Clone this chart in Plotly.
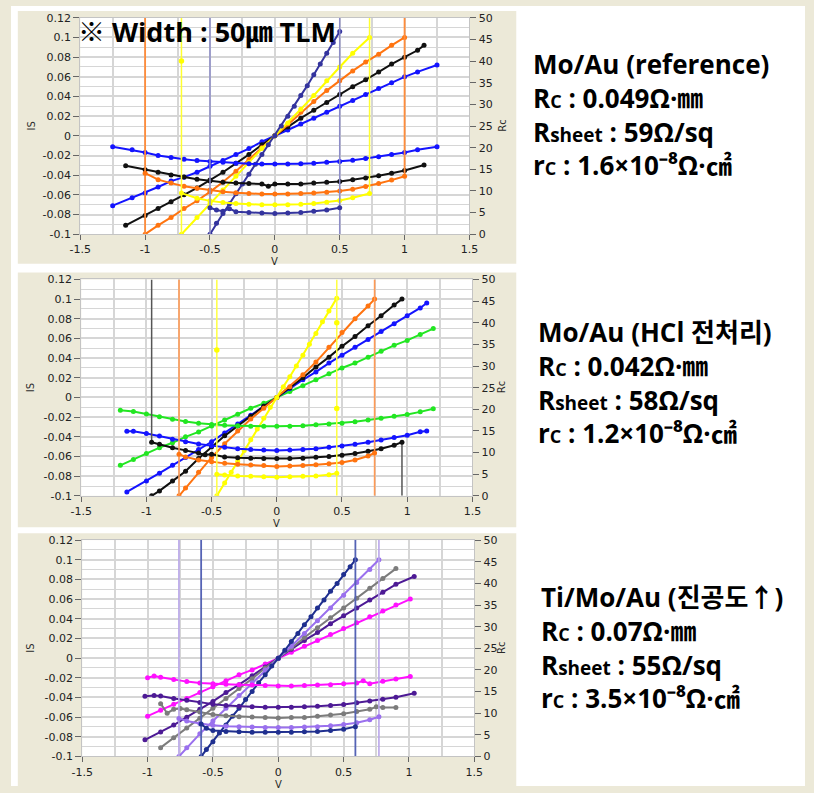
import plotly.graph_objects as go

W, H = 814, 793

# ---------------- tick labels ----------------
X_TICKS = [-1.5, -1.0, -0.5, 0.0, 0.5, 1.0, 1.5]
X_TICK_TEXT = ["-1.5", "-1", "-0.5", "0", "0.5", "1", "1.5"]
Y_TICKS = [-0.1, -0.08, -0.06, -0.04, -0.02, 0.0, 0.02, 0.04, 0.06, 0.08, 0.1, 0.12]
Y_TICK_TEXT = ["-0.1", "-0.08", "-0.06", "-0.04", "-0.02", "0", "0.02", "0.04", "0.06", "0.08", "0.1", "0.12"]
R_TICKS = [0, 5, 10, 15, 20, 25, 30, 35, 40, 45, 50]
R_TICK_TEXT = ["0", "5", "10", "15", "20", "25", "30", "35", "40", "45", "50"]

# ---------------- Panel 1 : Mo/Au (reference) ----------------
P1_NAVY_V = [-0.5, -0.45, -0.4, -0.35, -0.3, -0.25, -0.2, -0.15, -0.1, -0.05, 0.0, 0.05, 0.1, 0.15, 0.2, 0.25, 0.3, 0.35, 0.4, 0.45, 0.5]
P1_NAVY_I = [-0.100, -0.089, -0.079, -0.069, -0.059, -0.049, -0.039, -0.029, -0.019, -0.009, 0.000, 0.010, 0.020, 0.030, 0.041, 0.051, 0.062, 0.073, 0.084, 0.095, 0.106]
P1_NAVY_RV = [-0.5, -0.45, -0.4, -0.35, -0.3, -0.2, -0.1, 0.0, 0.1, 0.2, 0.3, 0.4, 0.5]
P1_NAVY_R = [6.1, 5.6, 5.3, 5.9, 5.2, 5.0, 4.9, 4.8, 4.9, 5.0, 5.3, 5.6, 6.1]

P1_YEL_V = [-0.72, -0.6, -0.5, -0.4, -0.3, -0.2, -0.1, 0.0, 0.1, 0.2, 0.3, 0.4, 0.5, 0.6, 0.73]
P1_YEL_I = [-0.100, -0.083, -0.069, -0.055, -0.041, -0.027, -0.013, 0.000, 0.013, 0.027, 0.041, 0.056, 0.070, 0.084, 0.100]
P1_YEL_R = [9.5, 8.3, 7.7, 7.3, 7.1, 6.9, 6.8, 6.8, 6.8, 6.9, 7.1, 7.4, 7.8, 8.4, 9.4]
P1_YEL_OUT_V = [-0.72]
P1_YEL_OUT_R = [40.0]

P1_ORG_V = [-1.0, -0.9, -0.8, -0.7, -0.6, -0.5, -0.4, -0.3, -0.2, -0.1, 0.0, 0.1, 0.2, 0.3, 0.4, 0.5, 0.6, 0.7, 0.8, 0.9, 1.0]
P1_ORG_I = [-0.100, -0.091, -0.083, -0.074, -0.066, -0.057, -0.047, -0.036, -0.024, -0.012, 0.000, 0.012, 0.024, 0.035, 0.046, 0.056, 0.066, 0.075, 0.083, 0.092, 0.100]
P1_ORG_R = [14.1, 12.6, 11.8, 11.1, 10.6, 10.2, 9.8, 9.6, 9.4, 9.3, 9.3, 9.3, 9.4, 9.5, 9.7, 10.0, 10.4, 11.0, 11.7, 12.5, 13.4]

P1_BLK_V = [-1.15, -1.0, -0.9, -0.8, -0.7, -0.6, -0.5, -0.4, -0.3, -0.2, -0.1, 0.0, 0.1, 0.2, 0.3, 0.4, 0.5, 0.6, 0.7, 0.8, 0.9, 1.0, 1.1, 1.15]
P1_BLK_I = [-0.091, -0.081, -0.074, -0.067, -0.060, -0.053, -0.045, -0.037, -0.028, -0.019, -0.009, 0.000, 0.009, 0.018, 0.026, 0.034, 0.042, 0.050, 0.057, 0.065, 0.073, 0.080, 0.087, 0.092]
P1_BLK_RV = [-1.15, -1.0, -0.9, -0.8, -0.7, -0.6, -0.5, -0.4, -0.3, -0.2, -0.1, -0.05, 0.0, 0.1, 0.2, 0.3, 0.4, 0.5, 0.6, 0.7, 0.8, 0.9, 1.0, 1.15]
P1_BLK_R = [15.8, 14.9, 14.3, 13.7, 13.2, 12.7, 12.3, 12.0, 11.8, 11.7, 11.6, 11.1, 11.6, 11.6, 11.6, 11.8, 12.0, 12.2, 12.6, 13.0, 13.5, 14.1, 14.7, 16.0]

P1_BLU_V = [-1.25, -1.1, -1.0, -0.9, -0.8, -0.7, -0.6, -0.5, -0.4, -0.3, -0.2, -0.1, 0.0, 0.1, 0.2, 0.3, 0.4, 0.5, 0.6, 0.7, 0.8, 0.9, 1.0, 1.1, 1.25]
P1_BLU_I = [-0.071, -0.063, -0.058, -0.052, -0.046, -0.042, -0.037, -0.031, -0.025, -0.019, -0.013, -0.006, 0.000, 0.006, 0.012, 0.018, 0.024, 0.030, 0.036, 0.042, 0.048, 0.054, 0.060, 0.065, 0.072]
P1_BLU_R = [20.2, 19.5, 18.9, 18.2, 17.7, 17.3, 17.0, 16.8, 16.6, 16.4, 16.3, 16.2, 16.2, 16.2, 16.3, 16.4, 16.6, 16.8, 17.1, 17.5, 17.9, 18.4, 18.9, 19.5, 20.2]

# ---------------- Panel 2 : Mo/Au (HCl) ----------------
P2_YEL_V = [-0.46, -0.4, -0.35, -0.3, -0.25, -0.2, -0.15, -0.1, -0.05, 0.0, 0.05, 0.1, 0.15, 0.2, 0.25, 0.3, 0.35, 0.4, 0.46]
P2_YEL_I = [-0.100, -0.087, -0.076, -0.065, -0.054, -0.043, -0.032, -0.021, -0.010, 0.000, 0.011, 0.021, 0.032, 0.043, 0.054, 0.065, 0.077, 0.088, 0.101]
P2_YEL_RV = [-0.46, -0.4, -0.3, -0.2, -0.1, 0.0, 0.1, 0.2, 0.3, 0.4, 0.46]
P2_YEL_R = [5.0, 4.8, 4.6, 4.5, 4.4, 4.3, 4.4, 4.5, 4.6, 4.9, 5.2]
P2_YEL_OUT_V = [-0.46, 0.46, 0.46]
P2_YEL_OUT_R = [33.7, 20.2, 40.0]

P2_ORG_V = [-0.75, -0.7, -0.6, -0.5, -0.4, -0.3, -0.2, -0.1, 0.0, 0.1, 0.2, 0.3, 0.4, 0.5, 0.6, 0.7, 0.75]
P2_ORG_I = [-0.100, -0.092, -0.076, -0.061, -0.047, -0.034, -0.022, -0.011, 0.000, 0.011, 0.023, 0.036, 0.051, 0.066, 0.080, 0.093, 0.100]
P2_ORG_R = [9.6, 9.0, 8.3, 7.9, 7.5, 7.3, 7.1, 7.0, 6.8, 6.9, 7.0, 7.2, 7.4, 7.7, 8.3, 9.2, 9.9]

P2_BLK_V = [-0.96, -0.9, -0.8, -0.7, -0.6, -0.5, -0.4, -0.3, -0.2, -0.1, 0.0, 0.1, 0.2, 0.3, 0.4, 0.5, 0.6, 0.7, 0.8, 0.9, 0.96]
P2_BLK_I = [-0.100, -0.095, -0.085, -0.075, -0.062, -0.050, -0.039, -0.029, -0.019, -0.009, 0.000, 0.010, 0.020, 0.031, 0.041, 0.052, 0.062, 0.073, 0.083, 0.094, 0.100]
P2_BLK_RV = [-0.96, -0.9, -0.8, -0.7, -0.6, -0.55, -0.5, -0.4, -0.3, -0.2, -0.1, 0.0, 0.1, 0.2, 0.3, 0.4, 0.5, 0.6, 0.7, 0.8, 0.9, 0.96]
P2_BLK_R = [12.4, 11.9, 11.1, 10.5, 9.9, 9.5, 9.6, 9.0, 8.8, 8.7, 8.6, 8.6, 8.6, 8.7, 8.9, 9.1, 9.4, 9.8, 10.3, 10.9, 11.7, 12.4]

P2_BLU_V = [-1.15, -1.0, -0.9, -0.8, -0.7, -0.6, -0.5, -0.4, -0.3, -0.2, -0.1, 0.0, 0.1, 0.2, 0.3, 0.4, 0.5, 0.6, 0.7, 0.8, 0.9, 1.0, 1.1, 1.15]
P2_BLU_I = [-0.096, -0.085, -0.077, -0.069, -0.061, -0.053, -0.045, -0.036, -0.027, -0.018, -0.009, 0.000, 0.009, 0.018, 0.026, 0.035, 0.043, 0.051, 0.059, 0.067, 0.075, 0.083, 0.091, 0.096]
P2_BLU_RV = [-1.15, -1.1, -1.0, -0.9, -0.8, -0.7, -0.6, -0.5, -0.4, -0.3, -0.2, -0.1, 0.0, 0.1, 0.2, 0.3, 0.4, 0.5, 0.6, 0.7, 0.8, 0.9, 1.0, 1.1, 1.15]
P2_BLU_R = [14.9, 14.9, 14.4, 13.8, 13.1, 12.5, 12.0, 11.6, 11.2, 10.9, 10.7, 10.6, 10.5, 10.6, 10.7, 10.9, 11.2, 11.5, 11.9, 12.4, 12.9, 13.5, 14.0, 14.8, 15.0]

P2_GRN_V = [-1.2, -1.1, -1.0, -0.9, -0.8, -0.7, -0.6, -0.5, -0.4, -0.3, -0.2, -0.1, 0.0, 0.1, 0.2, 0.3, 0.4, 0.5, 0.6, 0.7, 0.8, 0.9, 1.0, 1.1, 1.2]
P2_GRN_I = [-0.069, -0.063, -0.057, -0.051, -0.046, -0.040, -0.035, -0.029, -0.023, -0.017, -0.011, -0.006, 0.000, 0.006, 0.012, 0.018, 0.024, 0.030, 0.035, 0.041, 0.047, 0.053, 0.058, 0.064, 0.070]
P2_GRN_R = [19.8, 19.5, 18.9, 18.3, 17.7, 17.2, 16.8, 16.5, 16.3, 16.2, 16.1, 16.1, 16.1, 16.1, 16.2, 16.4, 16.6, 16.8, 17.1, 17.5, 17.9, 18.4, 18.8, 19.4, 20.1]

# ---------------- Panel 3 : Ti/Mo/Au ----------------
P3_NAVY_V = [-0.59, -0.55, -0.5, -0.45, -0.4, -0.35, -0.3, -0.25, -0.2, -0.15, -0.1, -0.05, 0.0, 0.05, 0.1, 0.15, 0.2, 0.25, 0.3, 0.35, 0.4, 0.45, 0.5, 0.55, 0.59]
P3_NAVY_I = [-0.100, -0.093, -0.085, -0.076, -0.068, -0.059, -0.051, -0.042, -0.034, -0.025, -0.017, -0.008, 0.000, 0.008, 0.017, 0.025, 0.034, 0.042, 0.051, 0.059, 0.068, 0.076, 0.085, 0.093, 0.100]
P3_NAVY_RV = [-0.59, -0.55, -0.5, -0.4, -0.3, -0.2, -0.1, 0.0, 0.1, 0.2, 0.3, 0.4, 0.5, 0.59]
P3_NAVY_R = [7.5, 6.5, 6.0, 5.8, 5.7, 5.6, 5.6, 5.6, 5.6, 5.7, 5.8, 6.0, 6.3, 6.9]

P3_LPU_V = [-0.76, -0.7, -0.6, -0.5, -0.4, -0.3, -0.2, -0.1, 0.0, 0.1, 0.2, 0.3, 0.4, 0.5, 0.6, 0.7, 0.77]
P3_LPU_I = [-0.100, -0.091, -0.077, -0.064, -0.051, -0.038, -0.025, -0.012, 0.000, 0.012, 0.025, 0.038, 0.051, 0.064, 0.077, 0.090, 0.100]
P3_LPU_R = [8.8, 8.2, 7.6, 7.2, 7.0, 6.9, 6.8, 6.7, 6.7, 6.7, 6.8, 6.9, 7.1, 7.4, 7.8, 8.5, 9.2]

P3_GRY_V = [-0.9, -0.8, -0.7, -0.6, -0.5, -0.4, -0.3, -0.2, -0.1, 0.0, 0.1, 0.2, 0.3, 0.4, 0.5, 0.6, 0.7, 0.8, 0.9]
P3_GRY_I = [-0.091, -0.081, -0.071, -0.061, -0.051, -0.041, -0.031, -0.021, -0.010, 0.000, 0.010, 0.021, 0.031, 0.041, 0.051, 0.061, 0.071, 0.081, 0.091]
P3_GRY_RV = [-0.9, -0.85, -0.8, -0.75, -0.7, -0.6, -0.5, -0.4, -0.3, -0.2, -0.1, 0.0, 0.1, 0.2, 0.3, 0.4, 0.5, 0.6, 0.7, 0.75, 0.8, 0.9]
P3_GRY_R = [12.2, 10.0, 10.9, 11.1, 10.8, 10.3, 9.7, 9.4, 9.2, 9.1, 9.0, 8.9, 9.0, 9.0, 9.3, 9.6, 9.9, 10.4, 10.9, 11.5, 11.3, 11.3]

P3_DPU_V = [-1.02, -0.9, -0.8, -0.7, -0.6, -0.5, -0.4, -0.3, -0.2, -0.1, 0.0, 0.1, 0.2, 0.3, 0.4, 0.5, 0.6, 0.7, 0.8, 0.9, 1.04]
P3_DPU_I = [-0.083, -0.075, -0.068, -0.060, -0.052, -0.044, -0.035, -0.027, -0.018, -0.009, 0.000, 0.009, 0.018, 0.026, 0.035, 0.043, 0.051, 0.059, 0.067, 0.075, 0.083]
P3_DPU_RV = [-1.02, -0.95, -0.9, -0.8, -0.7, -0.6, -0.5, -0.4, -0.3, -0.2, -0.1, 0.0, 0.1, 0.2, 0.3, 0.4, 0.5, 0.6, 0.7, 0.8, 0.9, 1.04]
P3_DPU_R = [13.9, 14.1, 14.0, 13.4, 13.0, 12.5, 12.1, 11.8, 11.6, 11.5, 11.4, 11.4, 11.4, 11.5, 11.6, 11.8, 12.0, 12.4, 12.8, 13.2, 13.7, 14.6]

P3_MAG_V = [-1.0, -0.9, -0.8, -0.7, -0.6, -0.5, -0.4, -0.3, -0.2, -0.1, 0.0, 0.1, 0.2, 0.3, 0.4, 0.5, 0.6, 0.7, 0.8, 0.9, 1.01]
P3_MAG_I = [-0.059, -0.053, -0.047, -0.041, -0.035, -0.029, -0.023, -0.017, -0.012, -0.006, 0.000, 0.006, 0.012, 0.018, 0.024, 0.030, 0.036, 0.042, 0.048, 0.054, 0.060]
P3_MAG_RV = [-1.0, -0.95, -0.9, -0.8, -0.7, -0.6, -0.5, -0.4, -0.3, -0.2, -0.1, 0.0, 0.1, 0.2, 0.3, 0.4, 0.5, 0.6, 0.65, 0.7, 0.8, 0.9, 1.01]
P3_MAG_R = [18.2, 18.6, 18.3, 17.8, 17.3, 17.0, 16.8, 16.7, 16.6, 16.5, 16.4, 16.3, 16.3, 16.4, 16.5, 16.6, 16.8, 17.0, 17.5, 16.8, 17.4, 17.9, 18.5]

# vertical end lines of the Rc traces: ((left lo, left hi), (right lo, right hi)) in Rc units
P1_NAVY_EDGE = ((0, 50), (0, 50))
P1_YEL_EDGE = ((0, 50), (9.4, 50))
P1_ORG_EDGE = ((0, 50), (13.4, 50))
P2_YEL_EDGE = ((0, 50), (0, 50))
P2_ORG_EDGE = ((0, 50), (0, 50))
P2_BLK_EDGE = ((12.4, 50), (0, 12.4))
P3_NAVY_EDGE = ((0, 50), (0, 50))
P3_LPU_EDGE = ((0, 50), (0, 50))

# ---------------- text ----------------
TITLE = "※ Width : 50㎛ TLM"
SUB_C = "<span style='font-size:18px'>C</span>"
SUB_SHEET = "<span style='font-size:19px'>sheet</span>"
INFO = [
    ["Mo/Au (reference)",
     "R" + SUB_C + " : 0.049Ω·㎜",
     "R" + SUB_SHEET + " : 59Ω/sq",
     "r" + SUB_C + " : 1.6×10⁻⁸Ω·㎠"],
    ["Mo/Au (HCl 전처리)",
     "R" + SUB_C + " : 0.042Ω·㎜",
     "R" + SUB_SHEET + " : 58Ω/sq",
     "r" + SUB_C + " : 1.2×10⁻⁸Ω·㎠"],
    ["Ti/Mo/Au (진공도↑)",
     "R" + SUB_C + " : 0.07Ω·㎜",
     "R" + SUB_SHEET + " : 55Ω/sq",
     "r" + SUB_C + " : 3.5×10⁻⁸Ω·㎠"],
]

# ---------------- layout geometry (pixels) ----------------
PLOT_BOX = [(71, 470, 12, 232), (72, 473, 278, 498), (73, 475, 543, 763)]
INFO_POS = [(533, 110), (538, 383), (541, 652)]  # left x, block centre y


def px(x):
    return x / W


def py(y):
    return 1 - y / H


fig = go.Figure()
AX = [("x", "y", "y2"), ("x2", "y3", "y4"), ("x3", "y5", "y6")]


def add_series(panel, v, i, rv, r, color, edge=None, edge_color=None, edge_width=1.5,
               out_v=None, out_r=None):
    xa, yl, yr = AX[panel]
    if edge is not None:
        (llo, lhi), (rlo, rhi) = edge
        fig.add_trace(go.Scatter(x=[v[0], v[0], None, v[-1], v[-1]], y=[llo, lhi, None, rlo, rhi],
                                 xaxis=xa, yaxis=yr, mode="lines",
                                 line=dict(color=edge_color or color, width=edge_width),
                                 hoverinfo="skip", showlegend=False))
    fig.add_trace(go.Scatter(x=rv, y=r, xaxis=xa, yaxis=yr, mode="lines+markers",
                             line=dict(color=color, width=2), marker=dict(size=5, color=color),
                             showlegend=False))
    if out_v is not None:
        fig.add_trace(go.Scatter(x=out_v, y=out_r, xaxis=xa, yaxis=yr, mode="markers",
                                 marker=dict(size=5.5, color=color), showlegend=False))
    fig.add_trace(go.Scatter(x=v, y=i, xaxis=xa, yaxis=yl, mode="lines+markers",
                             line=dict(color=color, width=2), marker=dict(size=5, color=color),
                             showlegend=False))


NAVY1 = "#34349e"
YEL = "#ffff00"
ORG = "#ff7410"
BLK = "#111111"
BLU = "#1414ff"
GRN = "#22e622"
NAVY3 = "#1f2f8f"
LPU = "#9a70ee"
GRY = "#7c7c7c"
DPU = "#4d1a95"
MAG = "#ff10ff"

# panel 1
add_series(0, P1_BLU_V, P1_BLU_I, P1_BLU_V, P1_BLU_R, BLU)
add_series(0, P1_BLK_V, P1_BLK_I, P1_BLK_RV, P1_BLK_R, BLK)
add_series(0, P1_ORG_V, P1_ORG_I, P1_ORG_V, P1_ORG_R, ORG, P1_ORG_EDGE, "#ff8c3a", 1.8)
add_series(0, P1_YEL_V, P1_YEL_I, P1_YEL_V, P1_YEL_R, YEL, P1_YEL_EDGE, "#ffff30", 1.5,
           P1_YEL_OUT_V, P1_YEL_OUT_R)
add_series(0, P1_NAVY_V, P1_NAVY_I, P1_NAVY_RV, P1_NAVY_R, NAVY1, P1_NAVY_EDGE, "#8c8cc8", 1.5)
# panel 2
add_series(1, P2_GRN_V, P2_GRN_I, P2_GRN_V, P2_GRN_R, GRN)
add_series(1, P2_BLU_V, P2_BLU_I, P2_BLU_RV, P2_BLU_R, BLU)
add_series(1, P2_BLK_V, P2_BLK_I, P2_BLK_RV, P2_BLK_R, BLK, P2_BLK_EDGE, "#555555", 1.5)
add_series(1, P2_ORG_V, P2_ORG_I, P2_ORG_V, P2_ORG_R, ORG, P2_ORG_EDGE, "#ff9a55", 1.6)
add_series(1, P2_YEL_V, P2_YEL_I, P2_YEL_RV, P2_YEL_R, YEL, P2_YEL_EDGE, "#ffff40", 1.5,
           P2_YEL_OUT_V, P2_YEL_OUT_R)
# panel 3
add_series(2, P3_MAG_V, P3_MAG_I, P3_MAG_RV, P3_MAG_R, MAG)
add_series(2, P3_DPU_V, P3_DPU_I, P3_DPU_RV, P3_DPU_R, DPU)
add_series(2, P3_GRY_V, P3_GRY_I, P3_GRY_RV, P3_GRY_R, GRY)
add_series(2, P3_LPU_V, P3_LPU_I, P3_LPU_V, P3_LPU_R, LPU, P3_LPU_EDGE, "#b9a6ea", 1.6)
add_series(2, P3_NAVY_V, P3_NAVY_I, P3_NAVY_RV, P3_NAVY_R, NAVY3, P3_NAVY_EDGE, "#5563b5", 1.8)

TICKFONT = dict(family="DejaVu Sans", size=11, color="#222")
GRID = "#d6d6d6"
layout = dict(
    width=W, height=H, margin=dict(l=0, r=0, t=0, b=0),
    paper_bgcolor="#ece9d8", plot_bgcolor="#ffffff", showlegend=False,
)
shapes = [
    dict(type="rect", xref="paper", yref="paper", x0=0, x1=px(7), y0=0, y1=1),
    dict(type="rect", xref="paper", yref="paper", x0=0, x1=1, y0=py(5), y1=1),
    dict(type="rect", xref="paper", yref="paper", x0=px(518), x1=1, y0=0, y1=1),
    dict(type="rect", xref="paper", yref="paper", x0=0, x1=1, y0=py(271), y1=py(262)),
    dict(type="rect", xref="paper", yref="paper", x0=0, x1=1, y0=py(536), y1=py(530)),
]
for s in shapes:
    s.update(fillcolor="#ffffff", line=dict(width=0), layer="below")
layout["shapes"] = shapes

for k, (l, r, t, b) in enumerate(PLOT_BOX):
    xa, yl, yr = AX[k]
    xname = "xaxis" if k == 0 else f"xaxis{k + 1}"
    ylname = "yaxis" if yl == "y" else f"yaxis{yl[1:]}"
    yrname = f"yaxis{yr[1:]}"
    layout[xname] = dict(
        domain=[px(l), px(r)], anchor=yl, range=[-1.5, 1.5],
        tickmode="array", tickvals=X_TICKS, ticktext=X_TICK_TEXT,
        ticks="outside", ticklen=5, tickcolor="#666", tickfont=TICKFONT,
        showgrid=True, gridcolor=GRID, gridwidth=1.6, zeroline=False,
        minor=dict(dtick=0.25, tick0=0, showgrid=True, gridcolor=GRID, gridwidth=1.6, ticks=""),
        showline=True, linecolor="#c4c4c4", linewidth=1, mirror=True,
    )
    layout[ylname] = dict(
        domain=[py(b), py(t)], anchor=xa, range=[-0.1, 0.12],
        tickmode="array", tickvals=Y_TICKS, ticktext=Y_TICK_TEXT,
        ticks="outside", ticklen=6, tickcolor="#666", tickfont=TICKFONT,
        showgrid=True, gridcolor=GRID, gridwidth=1.6, zeroline=False,
        minor=dict(dtick=0.01, tick0=0, showgrid=True, gridcolor=GRID, gridwidth=1.3, ticks=""),
        showline=True, linecolor="#c4c4c4", linewidth=1, mirror=True,
    )
    layout[yrname] = dict(
        overlaying=yl, side="right", anchor=xa, range=[0, 50],
        tickmode="array", tickvals=R_TICKS, ticktext=R_TICK_TEXT,
        ticks="outside", ticklen=6, tickcolor="#666", tickfont=TICKFONT,
        showgrid=False, zeroline=False, showline=False,
    )

fig.update_layout(**layout)

ann = []
LABFONT = dict(family="DejaVu Sans", size=10, color="#2a2a2a")
for k, (l, r, t, b) in enumerate(PLOT_BOX):
    cy = (t + b) / 2
    ann.append(dict(x=px(20), y=py(cy), text="IS", textangle=-90, font=LABFONT))
    ann.append(dict(x=px((l + r) / 2), y=py(b + 28), text="V", font=LABFONT))
    ann.append(dict(x=px(503), y=py(cy), text="Rc", textangle=-90, font=LABFONT))

TEXTFAM = "Open Sans, Noto Sans CJK KR, sans-serif"
ann.append(dict(x=px(67), y=py(26), text=TITLE, xanchor="left",
                font=dict(family=TEXTFAM, size=27, color="#000", weight="bold")))

for k, (x0, yc) in enumerate(INFO_POS):
    ann.append(dict(x=px(x0), y=py(yc), text="<br>".join(INFO[k]), xanchor="left", align="left",
                    font=dict(family=TEXTFAM, size=26, color="#000", weight="bold")))

for a in ann:
    a.update(xref="paper", yref="paper", showarrow=False)
    a.setdefault("yanchor", "middle")
    a.setdefault("xanchor", "center")
fig.update_layout(annotations=ann)

fig.write_html("out.html")
